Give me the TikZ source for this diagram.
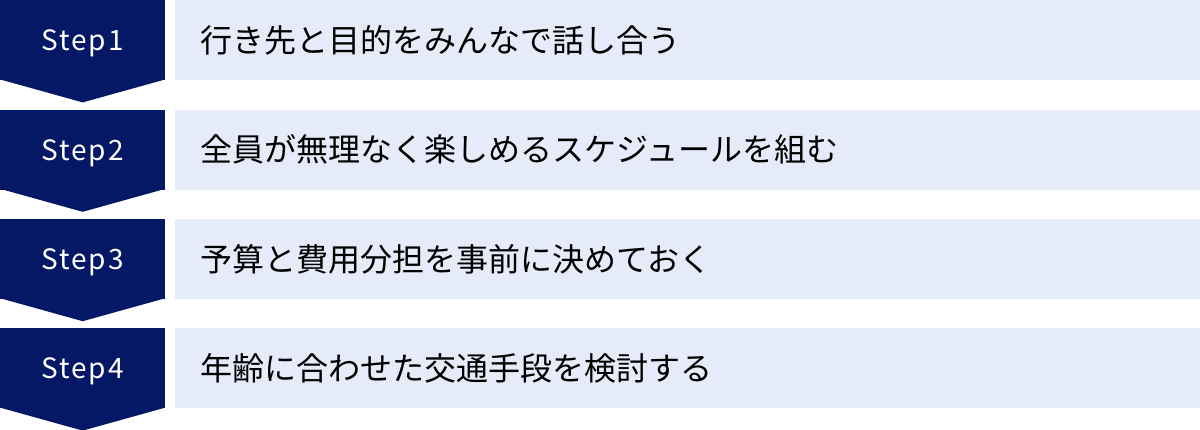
\documentclass[tikz,border=0pt]{standalone}
\usepackage{fontspec}
\setmainfont{Noto Sans}
\newfontfamily\jpfont{Noto Sans CJK JP}
\newfontfamily\stepfont[LetterSpace=7]{Noto Sans CJK JP}
\usetikzlibrary{positioning}
\definecolor{navy}{RGB}{5,24,101}
\definecolor{paleblue}{RGB}{230,235,249}

\begin{document}
\begin{tikzpicture}
[x=1pt,y=1pt,
stepbox/.style={fill=navy, text=white, minimum width=165pt, minimum height=80pt,
  inner sep=0pt, text depth=0pt, font=\stepfont\fontsize{28}{32}\selectfont},
taskbox/.style={fill=paleblue, text width=974pt, inner xsep=26pt, inner ysep=0pt,
  minimum height=80pt, align=left, font=\jpfont\fontsize{32}{38}\selectfont},
tip/.style={fill=navy}]
\useasboundingbox (0,0) rectangle (1200,-429);

\node[stepbox, anchor=north west] (s1) at (0,0) {Step1};
\node[taskbox, right=9pt of s1] (t1) {行き先と目的をみんなで話し合う};
\fill[tip] ([yshift=1pt]s1.south west) -- ([yshift=1pt]s1.south east) -- ([yshift=-22pt]s1.south) -- cycle;

\node[stepbox, below=29pt of s1] (s2) {Step2};
\node[taskbox, right=9pt of s2] (t2) {全員が無理なく楽しめるスケジュールを組む};
\fill[tip] ([yshift=1pt]s2.south west) -- ([yshift=1pt]s2.south east) -- ([yshift=-22pt]s2.south) -- cycle;

\node[stepbox, below=29pt of s2] (s3) {Step3};
\node[taskbox, right=9pt of s3] (t3) {予算と費用分担を事前に決めておく};
\fill[tip] ([yshift=1pt]s3.south west) -- ([yshift=1pt]s3.south east) -- ([yshift=-22pt]s3.south) -- cycle;

\node[stepbox, below=29pt of s3] (s4) {Step4};
\node[taskbox, right=9pt of s4] (t4) {年齢に合わせた交通手段を検討する};
\fill[tip] ([yshift=1pt]s4.south west) -- ([yshift=1pt]s4.south east) -- ([yshift=-22pt]s4.south) -- cycle;
\end{tikzpicture}
\end{document}
